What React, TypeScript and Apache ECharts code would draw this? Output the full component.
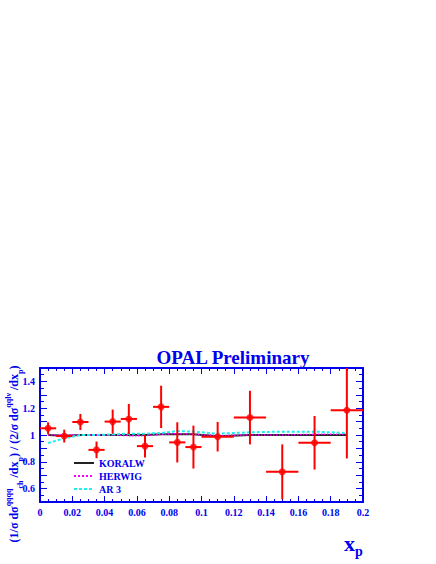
import React, { useEffect, useRef } from "react";
import * as echarts from "echarts";

const xCenters = [0.005, 0.015, 0.025, 0.035, 0.045, 0.055, 0.065, 0.075, 0.085, 0.095, 0.11, 0.13, 0.15, 0.17, 0.19];
const xHalfWidths = [0.005, 0.005, 0.005, 0.005, 0.005, 0.005, 0.005, 0.005, 0.005, 0.005, 0.01, 0.01, 0.01, 0.01, 0.01];
const dataValues = [1.05, 0.992, 1.097, 0.889, 1.1, 1.12, 0.917, 1.21, 0.945, 0.91, 0.987, 1.13, 0.725, 0.942, 1.185];
const dataErrors = [0.045, 0.048, 0.06, 0.062, 0.09, 0.112, 0.085, 0.158, 0.15, 0.16, 0.11, 0.2, 0.205, 0.2, 0.36];

const koralw = [1.0, 0.995, 1.0, 1.0, 1.0, 1.0, 1.0, 1.005, 1.005, 1.005, 0.99, 1.0, 1.0, 1.0, 1.0];
const herwig = [1.0, 1.0, 1.0, 1.0, 1.0, 0.995, 0.995, 1.005, 1.01, 1.005, 0.995, 1.0, 1.0, 1.005, 1.005];
const ar3 = [0.94, 0.975, 1.0, 1.0, 1.005, 1.01, 1.01, 1.015, 1.03, 1.025, 1.01, 1.02, 1.025, 1.025, 1.015];

const BLUE = "#0000ee";
const FONT = "'Liberation Serif', 'Times New Roman', serif";

export default function App() {
  const ref = useRef<HTMLDivElement>(null);
  useEffect(() => {
    if (!ref.current) return;
    const chart = echarts.init(ref.current, null, { renderer: "svg" });
    const errData = xCenters.map((x, i) => [x, dataValues[i], xHalfWidths[i], dataErrors[i]]);
    const axisCommon = {
      axisLine: { show: true, onZero: false, lineStyle: { color: BLUE, width: 2 } },
      splitLine: { show: false },
    };
    chart.setOption({
      animation: false,
      backgroundColor: "#ffffff",
      title: {
        text: "OPAL Preliminary",
        left: 228,
        top: 343,
        textAlign: "center",
        textStyle: { color: BLUE, fontFamily: FONT, fontWeight: "bold", fontSize: 19 },
      },
      grid: { left: 40, right: 73, top: 368, bottom: 62 },
      legend: {
        left: 68,
        top: 453,
        orient: "vertical",
        itemWidth: 20,
        itemHeight: 10,
        itemGap: 3,
        selectedMode: false,
        itemStyle: { opacity: 0 },
        textStyle: { color: BLUE, fontFamily: FONT, fontWeight: "bold", fontSize: 10 },
        data: ["KORALW", "HERWIG", "AR 3"],
      },
      xAxis: [
        {
          type: "value",
          min: 0,
          max: 0.2,
          interval: 0.02,
          ...axisCommon,
          axisTick: { show: true, inside: true, length: 6, lineStyle: { color: BLUE } },
          minorTick: { show: true, splitNumber: 4, length: 3, lineStyle: { color: BLUE } },
          axisLabel: { color: BLUE, fontFamily: FONT, fontWeight: "bold", fontSize: 10, margin: 5 },
        },
        {
          type: "value",
          position: "top",
          min: 0,
          max: 0.2,
          interval: 0.02,
          ...axisCommon,
          axisTick: { show: true, inside: true, length: 6, lineStyle: { color: BLUE } },
          minorTick: { show: true, splitNumber: 4, length: 3, lineStyle: { color: BLUE } },
          axisLabel: { show: false },
        },
      ],
      yAxis: [
        {
          type: "value",
          min: 0.5,
          max: 1.5,
          interval: 0.1,
          ...axisCommon,
          axisTick: { show: true, inside: true, length: 7, lineStyle: { color: BLUE } },
          minorTick: { show: true, splitNumber: 2, length: 4, lineStyle: { color: BLUE } },
          axisLabel: {
            color: BLUE,
            fontFamily: FONT,
            fontWeight: "bold",
            fontSize: 10,
            margin: 5,
            formatter: (v: number) => {
              const k = Math.round(v * 10);
              if (k % 2 !== 0) return "";
              return String(k / 10);
            },
          },
        },
        {
          type: "value",
          position: "right",
          min: 0.5,
          max: 1.5,
          interval: 0.1,
          ...axisCommon,
          axisTick: { show: true, inside: true, length: 7, lineStyle: { color: BLUE } },
          minorTick: { show: true, splitNumber: 2, length: 4, lineStyle: { color: BLUE } },
          axisLabel: { show: false },
        },
      ],
      series: [
        {
          name: "KORALW",
          type: "line",
          data: xCenters.map((x, i) => [x, koralw[i]]),
          symbol: "none",
          lineStyle: { color: "#222222", width: 2 },
          itemStyle: { color: "#222222" },
          z: 3,
        },
        {
          name: "HERWIG",
          type: "line",
          data: xCenters.map((x, i) => [x, herwig[i]]),
          symbol: "none",
          lineStyle: { color: "#ff00ff", width: 1.5, type: "dotted" },
          itemStyle: { color: "#ff00ff" },
          z: 4,
        },
        {
          name: "AR 3",
          type: "line",
          data: xCenters.map((x, i) => [x, ar3[i]]),
          symbol: "none",
          lineStyle: { color: "#22eeee", width: 2, type: [3, 2] },
          itemStyle: { color: "#22eeee" },
          z: 5,
        },
        {
          name: "errors",
          type: "custom",
          clip: true,
          z: 6,
          data: errData,
          renderItem: (params: any, api: any) => {
            const x = api.value(0);
            const y = api.value(1);
            const dx = api.value(2);
            const dy = api.value(3);
            const l = api.coord([x - dx, y]);
            const r = api.coord([x + dx, y]);
            const t = api.coord([x, y + dy]);
            const b = api.coord([x, y - dy]);
            const c = params.coordSys;
            const top = Math.max(t[1], c.y);
            const bot = Math.min(b[1], c.y + c.height);
            return {
              type: "group",
              children: [
                { type: "line", shape: { x1: l[0], y1: l[1], x2: r[0], y2: r[1] }, style: { stroke: "#ff0000", lineWidth: 2 } },
                { type: "line", shape: { x1: t[0], y1: top, x2: b[0], y2: bot }, style: { stroke: "#ff0000", lineWidth: 2 } },
              ],
            };
          },
        },
        {
          name: "data",
          type: "scatter",
          data: xCenters.map((x, i) => [x, dataValues[i]]),
          symbol: "circle",
          symbolSize: 7,
          itemStyle: { color: "#ff0000" },
          z: 7,
        },
      ],
      graphic: [
        {
          type: "text",
          x: 14,
          y: 454,
          rotation: Math.PI / 2,
          style: {
            text: "{n|(1/σ dσ}{sup|qqqq}{sub|ch}{n| /dx}{sub|p}{n|) / (2/σ dσ}{sup|qqlν}{n| /dx}{sub|p}{n|)}",
            align: "center",
            verticalAlign: "middle",
            fill: BLUE,
            fontFamily: FONT,
            fontWeight: "bold",
            fontSize: 12,
            rich: {
              n: { fontFamily: FONT, fontWeight: "bold", fontSize: 12, fill: BLUE, lineHeight: 20, verticalAlign: "middle" },
              sup: { fontFamily: FONT, fontWeight: "bold", fontSize: 8, fill: BLUE, lineHeight: 20, verticalAlign: "top" },
              sub: { fontFamily: FONT, fontWeight: "bold", fontSize: 8, fill: BLUE, lineHeight: 20, verticalAlign: "bottom" },
            },
          },
        },
        {
          type: "text",
          x: 344,
          y: 532,
          style: {
            text: "{x|x}{p|p}",
            fill: BLUE,
            rich: {
              x: { fontFamily: FONT, fontWeight: "bold", fontSize: 22, fill: BLUE, lineHeight: 26, verticalAlign: "top" },
              p: { fontFamily: FONT, fontWeight: "bold", fontSize: 14, fill: BLUE, lineHeight: 26, verticalAlign: "bottom" },
            },
          },
        },
      ],
    });
    return () => chart.dispose();
  }, []);
  return <div ref={ref} style={{ width: 436, height: 564, position: "absolute", left: 0, top: 0 }} />;
}
